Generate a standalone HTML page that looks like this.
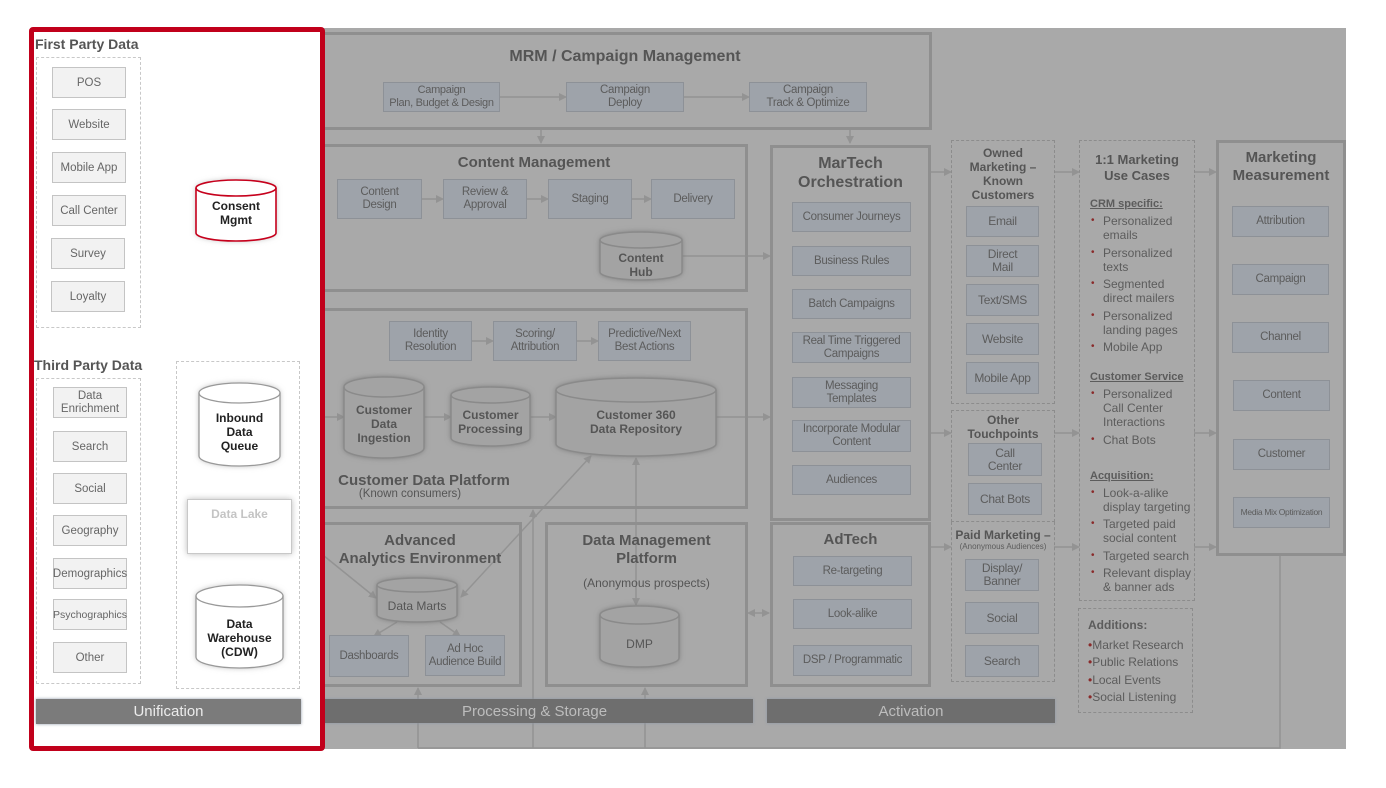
<!DOCTYPE html>
<html><head><meta charset="utf-8"><style>
*{margin:0;padding:0;box-sizing:border-box}
body{width:1386px;height:788px;background:#fff;position:relative;overflow:hidden;font-family:"Liberation Sans",sans-serif;color:#555}
.a{position:absolute}
.gb{position:absolute;background:#9ea3aa;border:1.5px solid #8d9197;color:#5c5c5c;font-size:11.5px;letter-spacing:-0.3px;white-space:nowrap;display:flex;align-items:center;justify-content:center;text-align:center;line-height:13px}
.wb{position:absolute;background:#f2f2f2;border:1.5px solid #c4c4c4;color:#666;font-size:11.5px;display:flex;align-items:center;justify-content:center;text-align:center;line-height:14px}
.sec{position:absolute;border:3px solid #8f8f8f}
.t{position:absolute;text-align:center;font-weight:bold;color:#555;font-size:15px;line-height:18px}
.ct{position:absolute;display:flex;align-items:center;justify-content:center;text-align:center;font-weight:bold;font-size:12px;line-height:14px}
.dash{position:absolute;border:1.5px dashed #8c8c8c}
.dashw{position:absolute;border:1.5px dashed #c8c8c8}
.bar{position:absolute;background:#6e6e6e;color:#bdbdbd;font-size:15px;display:flex;align-items:center;justify-content:center;box-shadow:0 0 3px #8e98a8}
ul{list-style:none}
.uc{font-size:12px;line-height:14px;color:#5c5c5c}
.uc .h{font-weight:bold;text-decoration:underline;font-size:11px;margin:4px 0 3px}
.uc li{padding-left:13px;position:relative;margin-bottom:3.5px}
.uc li:before{content:"•";color:#8a2a2a;position:absolute;left:1px;font-size:10px}
</style></head><body>
<div class="a" style="left:316px;top:28px;width:1030px;height:721px;background:#a9a9a9"></div>

<svg class="a" style="left:0;top:0" width="1386" height="788">
<defs>
<marker id="m" markerWidth="8" markerHeight="8" refX="7" refY="4" orient="auto" markerUnits="userSpaceOnUse"><path d="M0,0 L8,4 L0,8z" fill="#939393"/></marker>
<marker id="ms" markerWidth="8" markerHeight="8" refX="1" refY="4" orient="auto" markerUnits="userSpaceOnUse"><path d="M8,0 L0,4 L8,8z" fill="#939393"/></marker>
<marker id="mw" markerWidth="10" markerHeight="10" refX="9" refY="5" orient="auto" markerUnits="userSpaceOnUse"><path d="M0,0 L10,5 L0,10z" fill="#c8c8c8"/></marker>
<filter id="sh" x="-20%" y="-20%" width="140%" height="140%"><feGaussianBlur stdDeviation="3"/></filter>
</defs>
<g stroke="#939393" stroke-width="1.5" fill="none">
<line x1="500" y1="97" x2="566" y2="97" marker-end="url(#m)"/>
<line x1="684" y1="97" x2="749" y2="97" marker-end="url(#m)"/>
<line x1="541" y1="129" x2="541" y2="143" marker-end="url(#m)"/>
<line x1="850" y1="129" x2="850" y2="143" marker-end="url(#m)"/>
<line x1="422" y1="199" x2="443" y2="199" marker-end="url(#m)"/>
<line x1="527" y1="199" x2="548" y2="199" marker-end="url(#m)"/>
<line x1="632" y1="199" x2="651" y2="199" marker-end="url(#m)"/>
<line x1="682" y1="256" x2="770" y2="256" marker-end="url(#m)"/>
<line x1="472" y1="341" x2="493" y2="341" marker-end="url(#m)"/>
<line x1="577" y1="341" x2="598" y2="341" marker-end="url(#m)"/>
<line x1="300" y1="417" x2="344" y2="417" marker-end="url(#m)"/>
<line x1="424" y1="417" x2="451" y2="417" marker-end="url(#m)"/>
<line x1="530" y1="417" x2="556" y2="417" marker-end="url(#m)"/>
<line x1="716" y1="417" x2="770" y2="417" marker-end="url(#m)"/>
<line x1="930" y1="172" x2="951" y2="172" marker-end="url(#m)"/>
<line x1="1054" y1="172" x2="1079" y2="172" marker-end="url(#m)"/>
<line x1="1194" y1="172" x2="1216" y2="172" marker-end="url(#m)"/>
<line x1="930" y1="433" x2="951" y2="433" marker-end="url(#m)"/>
<line x1="1054" y1="433" x2="1079" y2="433" marker-end="url(#m)"/>
<line x1="1194" y1="433" x2="1216" y2="433" marker-end="url(#m)"/>
<line x1="930" y1="547" x2="951" y2="547" marker-end="url(#m)"/>
<line x1="1054" y1="547" x2="1079" y2="547" marker-end="url(#m)"/>
<line x1="1194" y1="547" x2="1216" y2="547" marker-end="url(#m)"/>
<line x1="591" y1="456" x2="461" y2="597" marker-start="url(#ms)" marker-end="url(#m)"/>
<line x1="636" y1="458" x2="636" y2="605" marker-start="url(#ms)" marker-end="url(#m)"/>
<line x1="748" y1="613" x2="769" y2="613" marker-start="url(#ms)" marker-end="url(#m)"/>
<line x1="292" y1="530" x2="376" y2="598" marker-end="url(#m)"/>
<line x1="397" y1="622" x2="374" y2="636" marker-end="url(#m)"/>
<line x1="440" y1="622" x2="460" y2="636" marker-end="url(#m)"/>
<polyline points="418,748 418,688" marker-end="url(#m)"/>
<polyline points="533,748 533,510" marker-end="url(#m)"/>
<polyline points="645,748 645,688" marker-end="url(#m)"/>
<polyline points="418,748 1280,748 1280,556"/>
</g>
<g stroke="#c8c8c8" stroke-width="1.2" fill="none">
<line x1="158" y1="73" x2="158" y2="656"/>
<line x1="126" y1="83" x2="160" y2="83"/><line x1="126" y1="125" x2="160" y2="125"/><line x1="126" y1="168" x2="160" y2="168"/>
<line x1="126" y1="211" x2="195" y2="211" marker-end="url(#mw)"/>
<line x1="126" y1="254" x2="160" y2="254"/><line x1="126" y1="297" x2="160" y2="297"/>
<line x1="127" y1="403" x2="160" y2="403"/><line x1="127" y1="446" x2="160" y2="446"/><line x1="127" y1="488" x2="160" y2="488"/><line x1="127" y1="531" x2="160" y2="531"/><line x1="127" y1="573" x2="160" y2="573"/><line x1="127" y1="615" x2="160" y2="615"/><line x1="127" y1="657" x2="160" y2="657"/>
<line x1="140" y1="424" x2="176" y2="424" marker-end="url(#mw)"/>
<line x1="238" y1="243" x2="238" y2="360" marker-end="url(#mw)"/>
<line x1="239" y1="466" x2="239" y2="498" marker-end="url(#mw)"/>
<line x1="239" y1="553" x2="239" y2="585" marker-end="url(#mw)"/>
</g>
</svg>

<!-- sections -->
<div class="sec" style="left:316px;top:32px;width:616px;height:98px"></div>
<div class="t" style="left:320px;top:48px;width:610px;font-size:16px">MRM / Campaign Management</div>
<div class="gb" style="left:383px;top:82px;width:117px;height:30px;font-size:11px">Campaign<br>Plan, Budget &amp; Design</div>
<div class="gb" style="left:566px;top:82px;width:118px;height:30px">Campaign<br>Deploy</div>
<div class="gb" style="left:749px;top:82px;width:118px;height:30px">Campaign<br>Track &amp; Optimize</div>

<div class="sec" style="left:316px;top:144px;width:432px;height:148px"></div>
<div class="t" style="left:320px;top:154px;width:428px">Content Management</div>
<div class="gb" style="left:337px;top:179px;width:85px;height:40px">Content<br>Design</div>
<div class="gb" style="left:443px;top:179px;width:84px;height:40px">Review &amp;<br>Approval</div>
<div class="gb" style="left:548px;top:179px;width:84px;height:40px">Staging</div>
<div class="gb" style="left:651px;top:179px;width:84px;height:40px">Delivery</div>

<div class="sec" style="left:316px;top:308px;width:432px;height:201px"></div>
<div class="gb" style="left:389px;top:321px;width:83px;height:40px">Identity<br>Resolution</div>
<div class="gb" style="left:493px;top:321px;width:84px;height:40px">Scoring/<br>Attribution</div>
<div class="gb" style="left:598px;top:321px;width:93px;height:40px">Predictive/Next<br>Best Actions</div>
<div class="t" style="left:330px;top:472px;width:188px;font-size:15px">Customer Data Platform</div>
<div class="a" style="left:330px;top:488px;width:160px;text-align:center;font-size:11.5px">(Known consumers)</div>

<div class="sec" style="left:770px;top:145px;width:161px;height:376px"></div>
<div class="t" style="left:770px;top:154px;width:161px;font-size:16px;line-height:19px">MarTech<br>Orchestration</div>
<div class="gb" style="left:792px;top:202px;width:119px;height:30px">Consumer Journeys</div>
<div class="gb" style="left:792px;top:246px;width:119px;height:30px">Business Rules</div>
<div class="gb" style="left:792px;top:289px;width:119px;height:30px">Batch Campaigns</div>
<div class="gb" style="left:792px;top:332px;width:119px;height:31px">Real Time Triggered<br>Campaigns</div>
<div class="gb" style="left:792px;top:377px;width:119px;height:31px">Messaging<br>Templates</div>
<div class="gb" style="left:792px;top:420px;width:119px;height:32px">Incorporate Modular<br>Content</div>
<div class="gb" style="left:792px;top:465px;width:119px;height:30px">Audiences</div>

<div class="sec" style="left:316px;top:522px;width:206px;height:165px"></div>
<div class="t" style="left:320px;top:532px;width:200px">Advanced<br>Analytics Environment</div>
<div class="gb" style="left:329px;top:635px;width:80px;height:42px">Dashboards</div>
<div class="gb" style="left:425px;top:635px;width:80px;height:41px">Ad Hoc<br>Audience Build</div>

<div class="sec" style="left:545px;top:522px;width:203px;height:165px"></div>
<div class="t" style="left:545px;top:532px;width:203px">Data Management<br>Platform</div>
<div class="a" style="left:545px;top:576px;width:203px;text-align:center;font-size:12px">(Anonymous prospects)</div>

<div class="sec" style="left:770px;top:522px;width:161px;height:165px"></div>
<div class="t" style="left:770px;top:531px;width:161px">AdTech</div>
<div class="gb" style="left:793px;top:556px;width:119px;height:30px">Re-targeting</div>
<div class="gb" style="left:793px;top:599px;width:119px;height:30px">Look-alike</div>
<div class="gb" style="left:793px;top:645px;width:119px;height:31px">DSP / Programmatic</div>

<div class="bar" style="left:316px;top:699px;width:437px;height:24px">Processing &amp; Storage</div>
<div class="bar" style="left:767px;top:699px;width:288px;height:24px">Activation</div>

<!-- channel columns -->
<div class="dash" style="left:951px;top:140px;width:104px;height:264px"></div>
<div class="ct" style="left:951px;top:145px;width:104px;height:58px;color:#555;font-size:12px;line-height:14px">Owned<br>Marketing –<br>Known<br>Customers</div>
<div class="gb" style="left:966px;top:206px;width:73px;height:31px;font-size:12px">Email</div>
<div class="gb" style="left:966px;top:245px;width:73px;height:32px;font-size:12px">Direct<br>Mail</div>
<div class="gb" style="left:966px;top:284px;width:73px;height:32px;font-size:12px">Text/SMS</div>
<div class="gb" style="left:966px;top:323px;width:73px;height:32px;font-size:12px">Website</div>
<div class="gb" style="left:966px;top:362px;width:73px;height:32px;font-size:12px">Mobile App</div>

<div class="dash" style="left:951px;top:410px;width:104px;height:112px"></div>
<div class="ct" style="left:951px;top:413px;width:104px;height:28px;color:#555">Other<br>Touchpoints</div>
<div class="gb" style="left:968px;top:443px;width:74px;height:33px;font-size:12px">Call<br>Center</div>
<div class="gb" style="left:968px;top:483px;width:74px;height:32px;font-size:12px">Chat Bots</div>

<div class="dash" style="left:951px;top:522px;width:104px;height:160px;border-top:none"></div>
<div class="ct" style="left:951px;top:528px;width:104px;height:14px;color:#555">Paid Marketing –</div>
<div class="a" style="left:951px;top:542px;width:104px;text-align:center;font-size:8px;color:#5c5c5c">(Anonymous Audiences)</div>
<div class="gb" style="left:965px;top:559px;width:74px;height:32px;font-size:12px">Display/<br>Banner</div>
<div class="gb" style="left:965px;top:602px;width:74px;height:32px;font-size:12px">Social</div>
<div class="gb" style="left:965px;top:645px;width:74px;height:32px;font-size:12px">Search</div>

<div class="dash" style="left:1079px;top:140px;width:116px;height:461px"></div>
<div class="ct" style="left:1079px;top:152px;width:116px;height:32px;color:#555;font-size:13px;line-height:16px">1:1 Marketing<br>Use Cases</div>
<div class="a uc" style="left:1090px;top:197px;width:104px">
<div class="h" style="margin-top:0">CRM specific:</div>
<ul><li>Personalized emails</li><li>Personalized texts</li><li>Segmented direct mailers</li><li>Personalized landing pages</li><li>Mobile App</li></ul>
<div class="h" style="margin-top:16px">Customer Service</div>
<ul><li>Personalized Call Center Interactions</li><li>Chat Bots</li></ul>
<div class="h" style="margin-top:22px">Acquisition:</div>
<ul><li>Look-a-alike display targeting</li><li>Targeted paid social content</li><li>Targeted search</li><li>Relevant display &amp; banner ads</li></ul>
</div>
<div class="dash" style="left:1078px;top:608px;width:115px;height:105px"></div>
<div class="a uc" style="left:1088px;top:617px;width:104px;line-height:17.5px">
<div style="font-weight:bold;margin-bottom:2px">Additions:</div>
<div><span style="color:#8a2a2a">•</span>Market Research</div>
<div><span style="color:#8a2a2a">•</span>Public Relations</div>
<div><span style="color:#8a2a2a">•</span>Local Events</div>
<div><span style="color:#8a2a2a">•</span>Social Listening</div>
</div>

<div class="sec" style="left:1216px;top:140px;width:130px;height:416px"></div>
<div class="t" style="left:1216px;top:149px;width:130px">Marketing<br>Measurement</div>
<div class="gb" style="left:1232px;top:206px;width:97px;height:31px">Attribution</div>
<div class="gb" style="left:1232px;top:264px;width:97px;height:31px">Campaign</div>
<div class="gb" style="left:1232px;top:322px;width:97px;height:31px">Channel</div>
<div class="gb" style="left:1233px;top:380px;width:97px;height:31px">Content</div>
<div class="gb" style="left:1233px;top:439px;width:97px;height:31px">Customer</div>
<div class="gb" style="left:1233px;top:497px;width:97px;height:31px;font-size:8.5px;letter-spacing:-0.3px">Media Mix Optimization</div>

<!-- left panel -->
<div class="a" style="left:29px;top:27px;width:296px;height:724px;background:#fff;border:5px solid #c1001b;border-radius:4px"></div>
<div class="a" style="left:35px;top:36px;font-size:14px;font-weight:bold;color:#555">First Party Data</div>
<div class="dashw" style="left:36px;top:57px;width:105px;height:271px"></div>
<div class="wb" style="left:52px;top:67px;width:74px;height:31px">POS</div>
<div class="wb" style="left:52px;top:109px;width:74px;height:31px">Website</div>
<div class="wb" style="left:52px;top:152px;width:74px;height:31px">Mobile App</div>
<div class="wb" style="left:52px;top:195px;width:74px;height:31px">Call Center</div>
<div class="wb" style="left:51px;top:238px;width:74px;height:31px">Survey</div>
<div class="wb" style="left:51px;top:281px;width:74px;height:31px">Loyalty</div>
<div class="a" style="left:34px;top:357px;font-size:14px;font-weight:bold;color:#555">Third Party Data</div>
<div class="dashw" style="left:36px;top:378px;width:105px;height:306px"></div>
<div class="wb" style="left:53px;top:387px;width:74px;height:31px;line-height:13px">Data<br>Enrichment</div>
<div class="wb" style="left:53px;top:431px;width:74px;height:31px">Search</div>
<div class="wb" style="left:53px;top:473px;width:74px;height:31px">Social</div>
<div class="wb" style="left:53px;top:515px;width:74px;height:31px">Geography</div>
<div class="wb" style="left:53px;top:558px;width:74px;height:31px">Demographics</div>
<div class="wb" style="left:53px;top:599px;width:74px;height:31px;font-size:10.5px">Psychographics</div>
<div class="wb" style="left:53px;top:642px;width:74px;height:31px">Other</div>
<div class="dashw" style="left:176px;top:361px;width:124px;height:328px"></div>
<div class="a" style="left:187px;top:499px;width:105px;height:55px;background:#fff;border:1.5px solid #c8c8c8;box-shadow:0 0 6px #bbb;text-align:center;color:#c4c4c4;font-weight:bold;font-size:12px;padding-top:7px">Data Lake</div>
<div class="bar" style="left:36px;top:699px;width:265px;height:25px;background:#7b7b7b;color:#ececec">Unification</div>

<!-- cylinders -->
<svg class="a" style="left:0;top:0" width="1386" height="788">
<g stroke-width="1.5">
<path filter="url(#sh)" fill="#777" d="M600,240 A41,8 0 0 1 682,240 V272 A41,8 0 0 1 600,272Z"/>
<path fill="#a3a3a3" stroke="#8a8a8a" d="M600,240 A41,8 0 0 1 682,240 V272 A41,8 0 0 1 600,272Z"/>
<path fill="none" stroke="#8a8a8a" d="M600,240 A41,8 0 0 0 682,240"/>
<path filter="url(#sh)" fill="#777" d="M344,387 A40,10 0 0 1 424,387 V448 A40,10 0 0 1 344,448Z"/>
<path fill="#a3a3a3" stroke="#8a8a8a" d="M344,387 A40,10 0 0 1 424,387 V448 A40,10 0 0 1 344,448Z"/>
<path fill="none" stroke="#8a8a8a" d="M344,387 A40,10 0 0 0 424,387"/>
<path filter="url(#sh)" fill="#777" d="M451,395 A39.5,8 0 0 1 530,395 V438 A39.5,8 0 0 1 451,438Z"/>
<path fill="#a3a3a3" stroke="#8a8a8a" d="M451,395 A39.5,8 0 0 1 530,395 V438 A39.5,8 0 0 1 451,438Z"/>
<path fill="none" stroke="#8a8a8a" d="M451,395 A39.5,8 0 0 0 530,395"/>
<path filter="url(#sh)" fill="#777" d="M556,390 A80,12 0 0 1 716,390 V444 A80,12 0 0 1 556,444Z"/>
<path fill="#a3a3a3" stroke="#8a8a8a" d="M556,390 A80,12 0 0 1 716,390 V444 A80,12 0 0 1 556,444Z"/>
<path fill="none" stroke="#8a8a8a" d="M556,390 A80,12 0 0 0 716,390"/>
<path filter="url(#sh)" fill="#777" d="M377,585 A40,7 0 0 1 457,585 V615 A40,7 0 0 1 377,615Z"/>
<path fill="#a3a3a3" stroke="#8a8a8a" d="M377,585 A40,7 0 0 1 457,585 V615 A40,7 0 0 1 377,615Z"/>
<path fill="none" stroke="#8a8a8a" d="M377,585 A40,7 0 0 0 457,585"/>
<path filter="url(#sh)" fill="#777" d="M600,615 A39.5,9 0 0 1 679,615 V658 A39.5,9 0 0 1 600,658Z"/>
<path fill="#a3a3a3" stroke="#8a8a8a" d="M600,615 A39.5,9 0 0 1 679,615 V658 A39.5,9 0 0 1 600,658Z"/>
<path fill="none" stroke="#8a8a8a" d="M600,615 A39.5,9 0 0 0 679,615"/>
<path filter="url(#sh)" fill="#bbb" d="M196,188 A40,8 0 0 1 276,188 V233 A40,8 0 0 1 196,233Z"/>
<path fill="#fff" stroke="#c6001c" stroke-width="1.6" d="M196,188 A40,8 0 0 1 276,188 V233 A40,8 0 0 1 196,233Z"/>
<path fill="none" stroke="#c6001c" stroke-width="1.6" d="M196,188 A40,8 0 0 0 276,188"/>
<path filter="url(#sh)" fill="#bbb" d="M199,393 A40.5,10 0 0 1 280,393 V456 A40.5,10 0 0 1 199,456Z"/>
<path fill="#fff" stroke="#999" stroke-width="1.3" d="M199,393 A40.5,10 0 0 1 280,393 V456 A40.5,10 0 0 1 199,456Z"/>
<path fill="none" stroke="#999" stroke-width="1.3" d="M199,393 A40.5,10 0 0 0 280,393"/>
<path filter="url(#sh)" fill="#bbb" d="M196,596 A43.5,11 0 0 1 283,596 V657 A43.5,11 0 0 1 196,657Z"/>
<path fill="#fff" stroke="#999" stroke-width="1.3" d="M196,596 A43.5,11 0 0 1 283,596 V657 A43.5,11 0 0 1 196,657Z"/>
<path fill="none" stroke="#999" stroke-width="1.3" d="M196,596 A43.5,11 0 0 0 283,596"/>
</g>
</svg>
<div class="ct" style="left:600px;top:250px;width:82px;height:30px;color:#555">Content<br>Hub</div>
<div class="ct" style="left:344px;top:398px;width:80px;height:52px;color:#555">Customer<br>Data<br>Ingestion</div>
<div class="ct" style="left:451px;top:404px;width:79px;height:36px;color:#555">Customer<br>Processing</div>
<div class="ct" style="left:556px;top:402px;width:160px;height:40px;color:#555">Customer 360<br>Data Repository</div>
<div class="ct" style="left:377px;top:593px;width:80px;height:26px;color:#555;font-weight:normal">Data Marts</div>
<div class="ct" style="left:600px;top:630px;width:79px;height:28px;color:#555;font-weight:normal">DMP</div>
<div class="ct" style="left:196px;top:197px;width:80px;height:32px;color:#222">Consent<br>Mgmt</div>
<div class="ct" style="left:199px;top:404px;width:81px;height:56px;color:#222">Inbound<br>Data<br>Queue</div>
<div class="ct" style="left:196px;top:610px;width:87px;height:56px;color:#222">Data<br>Warehouse<br>(CDW)</div>
</body></html>
